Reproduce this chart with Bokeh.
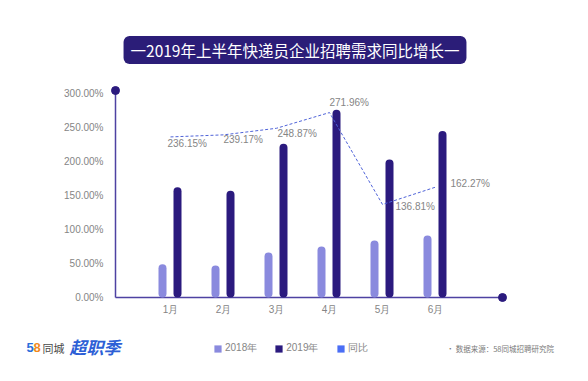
from bokeh.plotting import figure
from bokeh.models import (Range1d, FixedTicker, PrintfTickFormatter, Label, Legend,
                          LegendItem, ColumnDataSource, LinearAxis)
from bokeh.transform import dodge
from bokeh.core.properties import value
from bokeh.embed import file_html
from bokeh.resources import INLINE

# ---------------- data ----------------
months = ["1月", "2月", "3月", "4月", "5月", "6月"]
v2018 = [49, 47, 66, 75, 84, 91]
v2019 = [162, 157, 226, 276, 203, 245]
yoy = [236.15, 239.17, 248.87, 271.96, 136.81, 162.27]
yoy_labels = ["236.15%", "239.17%", "248.87%", "271.96%", "136.81%", "162.27%"]
yticks = [0, 50, 100, 150, 200, 250, 300]
series_names = ["2018年", "2019年", "同比"]

# ---------------- styles / geometry ----------------
W, H = 572, 365
PXX = 53.0            # px per category
PXY = 0.68            # px per percent
CAT0_PX = 170         # page x of first category
ZERO_PY = 297         # page y of 0 %
C2018 = "#8a8ade"
C2019 = "#2b1a7e"
CYOY = "#4a6ef5"
CLINE = "#4f63d8"
CAXIS = "#4e42a2"
CTEXT = "#858585"
FONT = "Liberation Sans"
CJK = "Noto Sans CJK SC"


def dx(px):
    return 1 + (px - CAT0_PX) / PXX


def dy(py):
    return (ZERO_PY - py) / PXY


p = figure(width=W, height=H, output_backend="svg", toolbar_location=None,
           x_range=Range1d(dx(0), dx(W)), y_range=Range1d(dy(H), dy(0)),
           x_axis_location=None, y_axis_location=None,
           min_border=0, min_border_left=0, min_border_right=0,
           min_border_top=0, min_border_bottom=0)
p.outline_line_color = None
p.grid.visible = False
p.background_fill_color = "white"
p.border_fill_color = "white"

ax_x = dx(115)
ax_r = dx(502)
ax_top = dy(90)

yaxis = LinearAxis(fixed_location=ax_x, ticker=FixedTicker(ticks=yticks),
                   formatter=PrintfTickFormatter(format="%.2f%%"))
xaxis = LinearAxis(fixed_location=0, ticker=FixedTicker(ticks=list(range(1, len(months) + 1))),
                   major_label_overrides={i + 1: m for i, m in enumerate(months)})
for ax in (xaxis, yaxis):
    ax.axis_line_color = None
    ax.major_tick_line_color = None
    ax.minor_tick_line_color = None
    ax.major_tick_out = 0
    ax.major_tick_in = 0
    ax.major_label_text_color = CTEXT
    ax.major_label_text_font = FONT
    ax.major_label_text_font_size = "10px"
xaxis.major_label_standoff = 6
yaxis.major_label_standoff = 12
p.add_layout(yaxis, "left")
p.add_layout(xaxis, "below")

# axis lines with end dots
p.segment(x0=[ax_x, ax_x], y0=[0, 0], x1=[ax_x, ax_r], y1=[ax_top, 0],
          line_color=CAXIS, line_width=1.5)
p.scatter(x=[ax_x, ax_r], y=[ax_top, 0], size=8, color=C2019)

src = ColumnDataSource(dict(x=list(range(1, len(months) + 1)), v2018=v2018,
                            v2019=v2019, yoy=yoy, lab=yoy_labels,
                            xo=[-3, 0, 1, 0, 13, 15], yo=[7, 5, 5, -10, 2, -4]))

p.vbar(x=dodge("x", -8 / PXX, range=p.x_range), top="v2018", bottom=0,
       width=8 / PXX, source=src, fill_color=C2018, line_color=None, border_radius=4)
p.vbar(x=dodge("x", 7 / PXX, range=p.x_range), top="v2019", bottom=0,
       width=8 / PXX, source=src, fill_color=C2019, line_color=None, border_radius=4)

p.line(x="x", y="yoy", source=src, line_color=CLINE, line_width=1, line_dash="3 2")
p.text(x="x", y="yoy", text="lab", x_offset="xo", y_offset="yo", source=src,
       text_font=value(FONT), text_font_size="10px", text_color=CTEXT,
       text_align="left", text_baseline="middle")

# title
p.add_layout(Label(x=dx(294.5), y=dy(49.5), text="一2019年上半年快递员企业招聘需求同比增长一",
                   text_align="center", text_baseline="middle", text_color="white",
                   text_font=CJK, text_font_size="15.5px",
                   background_fill_color="#2b1d78", padding=(7, 3), border_radius=6))

# legend: zero-height proxy bars (invisible on the chart) carry the swatch colours
proxy = ColumnDataSource(dict(x=[1], top=[0]))
d1 = p.vbar(x="x", top="top", bottom=0, width=0.01, source=proxy, fill_color=C2018, line_color=None)
d2 = p.vbar(x="x", top="top", bottom=0, width=0.01, source=proxy, fill_color=C2019, line_color=None)
d3 = p.vbar(x="x", top="top", bottom=0, width=0.01, source=proxy, fill_color=CYOY, line_color=None)
legend = Legend(items=[LegendItem(label=series_names[0], renderers=[d1]),
                       LegendItem(label=series_names[1], renderers=[d2]),
                       LegendItem(label=series_names[2], renderers=[d3])],
                orientation="horizontal", location=(213, 10),
                glyph_width=9, glyph_height=9, label_standoff=3, spacing=17,
                padding=0, margin=0, border_line_color=None,
                background_fill_alpha=0, label_text_font_size="10px",
                label_text_color=CTEXT, label_text_font=FONT,
                label_height=9, label_width=10)
p.add_layout(legend)

# source note
p.add_layout(Label(x=dx(446), y=dy(348), text="• 数据来源：58同城招聘研究院",
                   text_align="left", text_baseline="middle", text_color="#7a7a7a",
                   text_font=CJK, text_font_size="7.5px"))

# logo (approximated with text)
p.add_layout(Label(x=dx(26), y=dy(347), text="5", text_align="left", text_baseline="middle",
                   text_color="#2a6fdb", text_font=FONT, text_font_size="13px",
                   text_font_style="bold"))
p.add_layout(Label(x=dx(33), y=dy(347), text="8", text_align="left", text_baseline="middle",
                   text_color="#f08a1c", text_font=FONT, text_font_size="13px",
                   text_font_style="bold"))
p.add_layout(Label(x=dx(42), y=dy(347), text="同城", text_align="left", text_baseline="middle",
                   text_color="#4a4a4a", text_font=CJK, text_font_size="11px"))
p.add_layout(Label(x=dx(69), y=dy(346), text="超职季", text_align="left", text_baseline="middle",
                   text_color="#2d5fd6", text_font=CJK, text_font_size="17px",
                   text_font_style="bold italic"))

open("out.html", "w").write(file_html(p, INLINE))
